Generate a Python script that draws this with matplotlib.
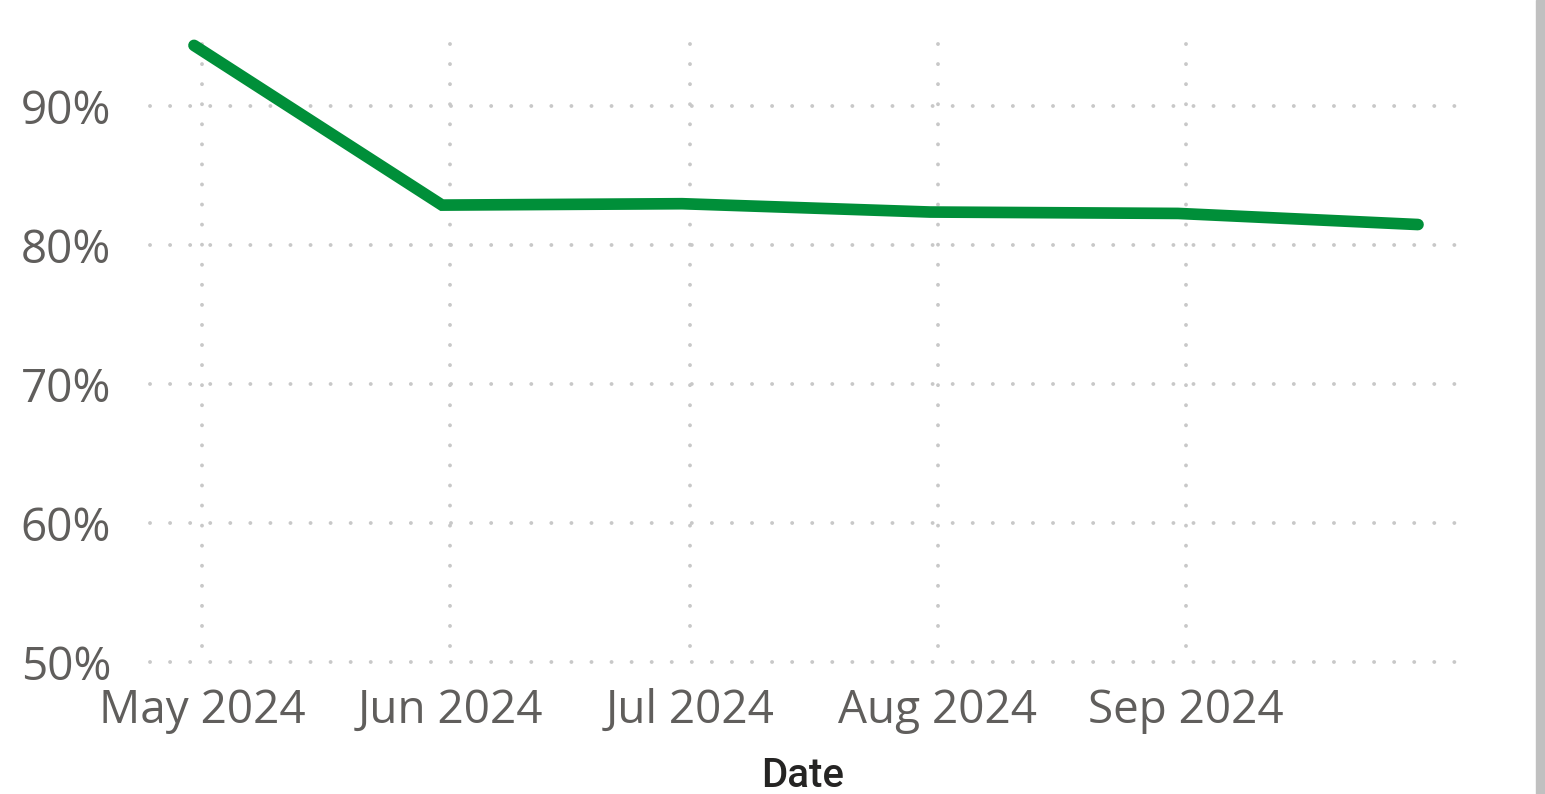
import numpy as np
import matplotlib
matplotlib.use("Agg")
import matplotlib.pyplot as plt
import matplotlib.dates as mdates
from matplotlib.patches import Rectangle
import datetime as dt

# data (month-end values, percent)
dates = [dt.date(2024, 4, 30), dt.date(2024, 5, 31), dt.date(2024, 6, 30),
         dt.date(2024, 7, 31), dt.date(2024, 8, 31), dt.date(2024, 9, 30)]
values = [94.4, 82.9, 83.0, 82.4, 82.3, 81.5]
y_ticks = [50, 60, 70, 80, 90]
x_ticks = [dt.date(2024, 5, 1), dt.date(2024, 6, 1), dt.date(2024, 7, 1),
           dt.date(2024, 8, 1), dt.date(2024, 9, 1)]
x_labels = ["May 2024", "Jun 2024", "Jul 2024", "Aug 2024", "Sep 2024"]

W, H = 1545, 794
fig = plt.figure(figsize=(W / 100, H / 100), dpi=100)
fig.patch.set_facecolor("white")

# axes box in pixels
left, right, top, bottom = 150, 1455, 44, 662
ax = fig.add_axes([left / W, 1 - bottom / H, (right - left) / W, (bottom - top) / H])

ax.plot(mdates.date2num(dates), values, color="#008F39", lw=8.4,
        solid_capstyle="round", solid_joinstyle="miter", clip_on=False, zorder=3)

# 8 px per day, May 1 sits at x=202
may1 = mdates.date2num(dt.date(2024, 5, 1))
ax.set_xlim(may1 - (202 - left) / 8, may1 + (right - 202) / 8)
ax.set_ylim(50, 94.5)

ax.set_yticks(y_ticks)
ax.set_yticklabels([f"{v}%" for v in y_ticks])
ax.set_xticks(mdates.date2num(x_ticks))
ax.set_xticklabels(x_labels)

for lab in ax.get_xticklabels() + ax.get_yticklabels():
    lab.set_fontfamily("Open Sans")
    lab.set_fontsize(33)
    lab.set_color("#605E5C")
ax.tick_params(axis="both", length=0)
ax.tick_params(axis="y", pad=28)
ax.tick_params(axis="x", pad=19)

for s in ax.spines.values():
    s.set_visible(False)

# dotted grid, dots about 20 px apart
dot = (0, (0.01, 5.15))
for yv in y_ticks:
    ax.axhline(yv, color="#C8C8C8", lw=2.8, ls=dot,
               dash_capstyle="round", zorder=1, clip_on=False)
for xv in mdates.date2num(x_ticks):
    # drawn top-down so the first dot sits at the top edge
    ax.axvline(xv, ymin=1.0, ymax=-0.005, color="#C8C8C8", lw=2.8, ls=dot,
               dash_capstyle="round", zorder=1, clip_on=False)

ax.set_xlabel("Date", fontsize=29, color="#252423", family="Roboto",
              fontweight="medium", labelpad=16)

# scroll bar at right edge
fig.patches.append(Rectangle((1536 / W, 0), 9 / W, 1, transform=fig.transFigure,
                             color="#C0C0C0", zorder=0))

fig.savefig("out.png", dpi=100)
